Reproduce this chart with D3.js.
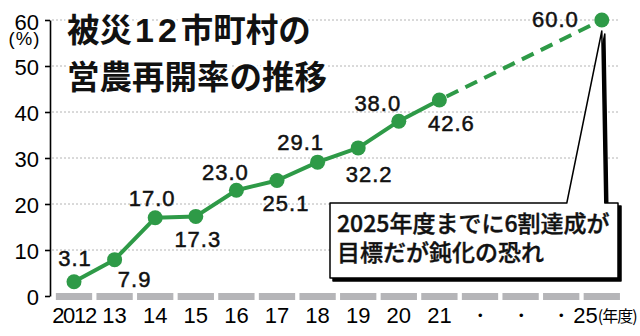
<!DOCTYPE html>
<html>
<head>
<meta charset="utf-8">
<script src="https://cdn.jsdelivr.net/npm/d3@7/dist/d3.min.js"></script>
<style>
  html, body { margin: 0; padding: 0; background: #fff; }
  svg { display: block; }
</style>
</head>
<body>
<svg id="chart" width="640" height="336"></svg>
<script>
// 年度（2012〜2025）
const years = ["2012", "2013", "2014", "2015", "2016", "2017", "2018",
               "2019", "2020", "2021", "2022", "2023", "2024", "2025"];
// 軸の目盛りラベル
const xTickLabels = ["2012", "13", "14", "15", "16", "17", "18",
                     "19", "20", "21", "・", "・", "・", "25"];
const xUnit = "(年度)";
const yTicks = [0, 10, 20, 30, 40, 50, 60];

// 実績（%）
const actualYears = ["2012", "2013", "2014", "2015", "2016", "2017", "2018",
                     "2019", "2020", "2021"];
const actualRates = [3.1, 7.9, 17.0, 17.3, 23.0, 25.1, 29.1, 32.2, 38.0, 42.6];

// 目標
const targetYear = "2025";
const targetRate = 60.0;

const titleLine1 = ["被災", "12", "市町村の"];
const titleLine2 = "営農再開率の推移";
const noteLines = ["2025年度までに6割達成が", "目標だが鈍化の恐れ"];

// 数値ラベルの配置（点からのずれ, px）
const labelNudge = [[1, -16], [20, 27], [-3, -12], [2, 31], [-11, -10],
                    [9, 30], [-17, -12], [11, 34], [-21, -10], [12, 31]];

const GREEN = "#2e9a47";
const NUM_FONT = "'Liberation Sans', Arial, Helvetica, sans-serif";
const JP_FONT = "'Noto Sans CJK JP', 'Noto Sans', sans-serif";

const svg = d3.select("#chart");

const x = d3.scalePoint().domain(years).range([74, 601.8]);
const y = d3.scaleLinear().domain([0, 60]).range([296, 20]);
const barW = x.step() * 0.894;

// 補助線（点線）
svg.append("g")
  .selectAll("line")
  .data(yTicks.filter(d => d > 0))
  .join("line")
  .attr("x1", 52).attr("x2", 620)
  .attr("y1", d => y(d)).attr("y2", d => y(d))
  .attr("stroke", "#b4b4b4")
  .attr("stroke-width", 1)
  .attr("stroke-dasharray", "2,2");

// 縦軸
const yAxis = d3.axisLeft(y).tickValues(yTicks).tickSize(5).tickSizeOuter(0).tickPadding(6);
const gy = svg.append("g").attr("transform", "translate(50,0)").call(yAxis);
gy.select(".domain").attr("stroke", "#000").attr("stroke-width", 1.6);
gy.selectAll(".tick line").attr("stroke", "#000").attr("stroke-width", 1.6);
gy.selectAll(".tick text")
  .style("font-family", NUM_FONT)
  .style("font-size", "22px")
  .attr("fill", "#000")
  .attr("dy", d => d === 60 ? "0.45em" : "0.38em");

svg.append("text")
  .style("font-family", NUM_FONT)
  .style("font-size", "18.5px")
  .attr("letter-spacing", 1)
  .attr("x", 24.5).attr("y", 45)
  .attr("text-anchor", "middle")
  .text("(%)");

// 横軸の灰色帯
svg.append("g")
  .selectAll("rect")
  .data(years)
  .join("rect")
  .attr("x", d => x(d) - barW / 2)
  .attr("y", 293)
  .attr("width", barW)
  .attr("height", 7)
  .attr("fill", "#b5b5b8");

// 横軸ラベル
svg.append("g")
  .selectAll("text")
  .data(years.slice(0, years.length - 1))
  .join("text")
  .style("font-family", NUM_FONT)
  .style("font-size", "22px")
  .attr("letter-spacing", (d, i) => xTickLabels[i].length > 2 ? -1.3 : 0)
  .attr("x", d => x(d))
  .attr("y", 322.5)
  .attr("text-anchor", "middle")
  .text((d, i) => xTickLabels[i]);

svg.append("text")
  .style("font-family", NUM_FONT)
  .style("font-size", "22px")
  .attr("x", x(targetYear) - 4)
  .attr("y", 322.5)
  .attr("text-anchor", "end")
  .text(xTickLabels[xTickLabels.length - 1]);
svg.append("text")
  .style("font-family", JP_FONT)
  .style("font-size", "16px")
  .attr("letter-spacing", -1)
  .attr("x", x(targetYear) - 4)
  .attr("y", 321.5)
  .text(xUnit);

// 見出し（白縁取り）
const title = svg.append("g")
  .style("font-family", JP_FONT)
  .style("font-size", "32.5px")
  .attr("font-weight", 700)
  .attr("fill", "#111")
  .attr("stroke", "#fff")
  .attr("stroke-width", 6)
  .attr("stroke-linejoin", "round")
  .attr("paint-order", "stroke");
const t1 = title.append("text").attr("x", 67).attr("y", 42);
t1.append("tspan").text(titleLine1[0]);
t1.append("tspan")
  .style("font-family", "'Liberation Sans', Arial, sans-serif")
  .style("font-size", "34px")
  .attr("dx", 3)
  .attr("letter-spacing", 4)
  .text(titleLine1[1]);
t1.append("tspan").text(titleLine1[2]);
title.append("text").attr("x", 67).attr("y", 89).text(titleLine2);

// 吹き出し
const pX = x(targetYear), pY = y(targetRate);
const bx0 = 330, bx1 = 618, by0 = 203, by1 = 278;
const calloutPath = [
  "M", bx0, by0, "L", pX - 35, by0, "L", pX, pY + 11, "L", pX + 3, by0,
  "L", bx1, by0, "L", bx1, by1, "L", bx0, by1, "Z"
].join(" ");
svg.append("path")
  .attr("d", calloutPath)
  .attr("transform", "translate(3,3)")
  .attr("fill", "#000")
  .attr("stroke", "#000")
  .attr("stroke-width", 1.5)
  .attr("stroke-linejoin", "round");
svg.append("path")
  .attr("d", calloutPath)
  .attr("fill", "#fff")
  .attr("stroke", "#000")
  .attr("stroke-width", 1.5)
  .attr("stroke-linejoin", "round");
svg.append("g")
  .style("font-family", JP_FONT)
  .style("font-size", "23px")
  .attr("font-weight", 500)
  .attr("fill", "#111")
  .attr("stroke", "#111")
  .attr("stroke-width", 0.4)
  .selectAll("text")
  .data(noteLines)
  .join("text")
  .attr("x", 337)
  .attr("y", (d, i) => 232 + i * 29)
  .text(d => d);

// 実績の折れ線
const actual = actualYears.map((yr, i) => ({ yr, v: actualRates[i], nudge: labelNudge[i] }));
const line = d3.line().x(d => x(d.yr)).y(d => y(d.v));
svg.append("path")
  .datum(actual)
  .attr("d", line)
  .attr("fill", "none")
  .attr("stroke", GREEN)
  .attr("stroke-width", 4)
  .attr("stroke-linejoin", "round");

// 目標までの破線
const last = actual[actual.length - 1];
svg.append("path")
  .datum([last, { yr: targetYear, v: targetRate }])
  .attr("d", line)
  .attr("fill", "none")
  .attr("stroke", GREEN)
  .attr("stroke-width", 4)
  .attr("stroke-dasharray", "13,8")
  .attr("stroke-dashoffset", -8);

// 点
svg.append("g")
  .selectAll("circle")
  .data(actual.concat([{ yr: targetYear, v: targetRate }]))
  .join("circle")
  .attr("cx", d => x(d.yr))
  .attr("cy", d => y(d.v))
  .attr("r", 7.5)
  .attr("fill", GREEN);

// 数値ラベル
const labelG = svg.append("g")
  .style("font-family", NUM_FONT)
  .style("font-size", "22px")
  .attr("letter-spacing", 1)
  .attr("fill", "#111")
  .attr("stroke", "#111")
  .attr("stroke-width", 0.5);
labelG.selectAll("text")
  .data(actual)
  .join("text")
  .attr("text-anchor", "middle")
  .attr("x", d => x(d.yr) + d.nudge[0])
  .attr("y", d => y(d.v) + d.nudge[1])
  .text(d => d.v.toFixed(1));
labelG.append("text")
  .attr("text-anchor", "end")
  .attr("x", pX - 23)
  .attr("y", pY + 7)
  .text(targetRate.toFixed(1));
</script>
</body>
</html>
